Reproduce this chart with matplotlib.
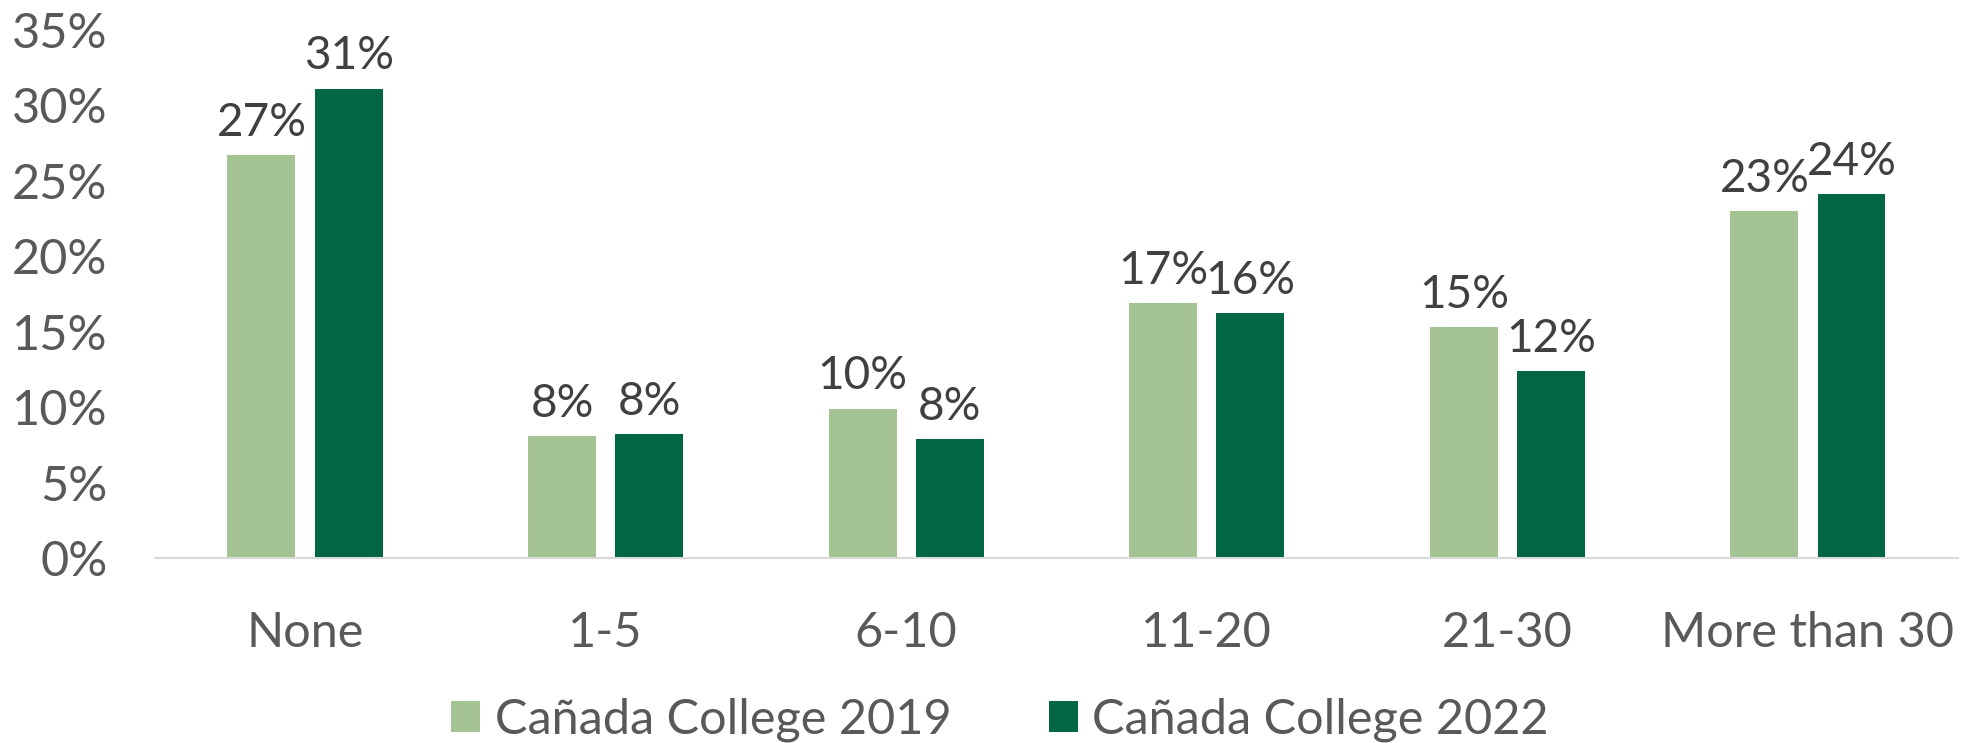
import matplotlib.pyplot as plt
import numpy as np
from matplotlib.ticker import PercentFormatter

plt.rcParams['font.family'] = ['Lato', 'DejaVu Sans']

categories = ["None", "1-5", "6-10", "11-20", "21-30", "More than 30"]
vals_2019 = [26.7, 8.1, 9.9, 16.9, 15.3, 23.0]
vals_2022 = [31.1, 8.2, 7.9, 16.2, 12.4, 24.1]
labels_2019 = ["27%", "8%", "10%", "17%", "15%", "23%"]
labels_2022 = ["31%", "8%", "8%", "16%", "12%", "24%"]
series_names = ["Cañada College 2019", "Cañada College 2022"]

light = "#A3C492"
dark = "#006644"

fig = plt.figure(figsize=(19.84, 7.43), dpi=100)
ax = fig.add_axes([0.078, 0.249, 0.909, 0.711])

x = np.arange(len(categories))
w = 0.226
off = 0.145
b1 = ax.bar(x - off, vals_2019, w, color=light, label=series_names[0])
b2 = ax.bar(x + off, vals_2022, w, color=dark, label=series_names[1])

for bars, labs in [(b1, labels_2019), (b2, labels_2022)]:
    for b, lab in zip(bars, labs):
        ax.annotate(lab, (b.get_x() + b.get_width() / 2, b.get_height()),
                    xytext=(0, 8), textcoords="offset points",
                    ha="center", va="bottom", fontsize=33, color="#404040")

ax.set_xlim(-0.5, len(categories) - 0.5)
ax.set_ylim(0, 35)
ax.set_yticks(range(0, 36, 5))
ax.yaxis.set_major_formatter(PercentFormatter(decimals=0))
ax.set_xticks(x)
ax.set_xticklabels(categories)
ax.tick_params(axis="both", length=0, labelsize=35, labelcolor="#595959")
ax.tick_params(axis="x", pad=38)
ax.tick_params(axis="y", pad=34)

for s in ["top", "right", "left"]:
    ax.spines[s].set_visible(False)
ax.spines["bottom"].set_color("#D9D9D9")
ax.spines["bottom"].set_linewidth(1.5)

leg = fig.legend(loc="lower center", bbox_to_anchor=(0.504, -0.058), ncol=2,
                 frameon=False, fontsize=35, handlelength=0.6, handleheight=0.6,
                 handletextpad=0.3, columnspacing=2.0, labelcolor="#595959")

fig.savefig("out.png", dpi=100)
